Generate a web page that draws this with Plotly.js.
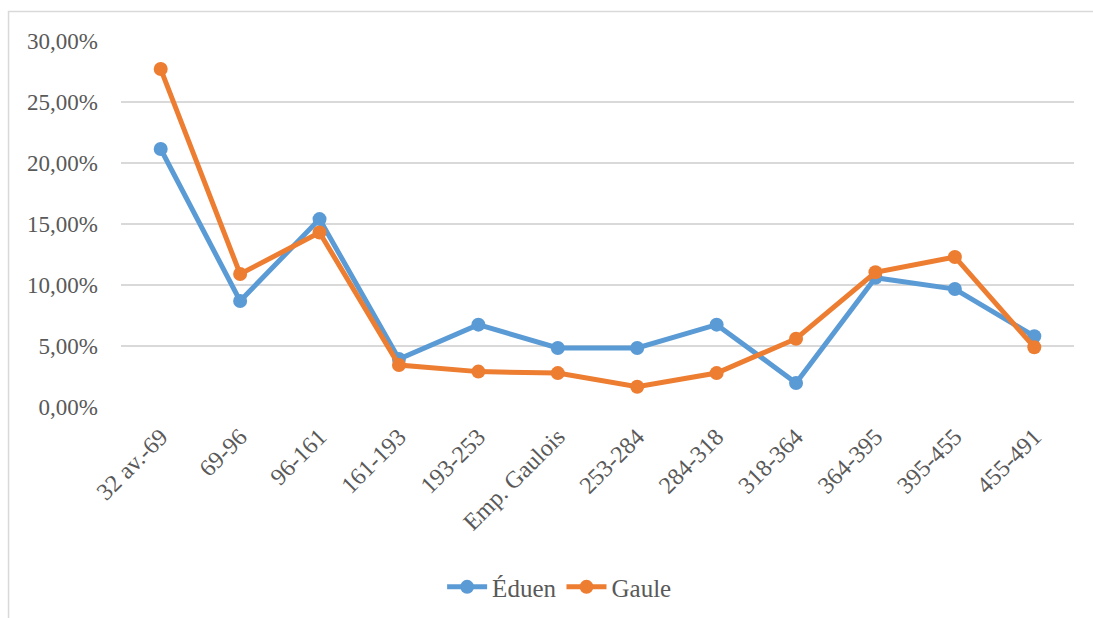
<!DOCTYPE html>
<html>
<head>
<meta charset="utf-8">
<script src="https://cdn.plot.ly/plotly-3.0.1.min.js"></script>
<style>
html,body{margin:0;padding:0;background:#fff;}
#chart{width:1093px;height:618px;}
</style>
</head>
<body>
<div id="chart"></div>
<script>
const categories = ["32 av.-69","69-96","96-161","161-193","193-253","Emp. Gaulois","253-284","284-318","318-364","364-395","395-455","455-491"];
const eduen = [0.2115,0.0869,0.1540,0.0393,0.0675,0.0484,0.0484,0.0675,0.0197,0.1060,0.0967,0.0580];
const gaule = [0.2770,0.1090,0.1430,0.0344,0.0290,0.0278,0.0166,0.0278,0.0560,0.1104,0.1230,0.0490];
const seriesNames = ["Éduen","Gaule"];
const yTicks = [0,0.05,0.10,0.15,0.20,0.25,0.30];

const fam = "Times New Roman, Liberation Serif, Tinos, DejaVu Serif, serif";
const yFont = {family:fam, size:23, color:"#595959"};
const xFont = {family:fam, size:24, color:"#595959"};
const legFont = {family:fam, size:25, color:"#595959"};

const traces = [
  {x:categories, y:eduen, name:seriesNames[0], type:"scatter", mode:"lines+markers",
   line:{color:"#5B9BD5", width:5}, marker:{color:"#5B9BD5", size:14}},
  {x:categories, y:gaule, name:seriesNames[1], type:"scatter", mode:"lines+markers",
   line:{color:"#ED7D31", width:5}, marker:{color:"#ED7D31", size:14}}
];

const layout = {
  width:1093, height:618,
  paper_bgcolor:"#fff", plot_bgcolor:"#fff",
  separators:", ",
  font:yFont,
  margin:{l:121, r:19, t:41, b:211, autoexpand:false},
  showlegend:true,
  legend:{orientation:"h", xref:"container", yref:"container", x:0.512, xanchor:"center", y:0.05, yanchor:"middle",
          font:legFont, itemwidth:40, traceorder:"normal"},
  xaxis:{type:"category", range:[-0.5, categories.length-0.5], tickangle:-45, showgrid:false, zeroline:false, showline:false,
         ticks:"", tickfont:xFont, ticklabelstandoff:10, automargin:false, fixedrange:true},
  yaxis:{range:[0,0.30], tickvals:yTicks, tickformat:".2%", showgrid:true, gridcolor:"#D9D9D9",
         gridwidth:1.5, zeroline:false, showline:false, ticks:"", tickfont:yFont,
         ticklabelstandoff:22, automargin:false, fixedrange:true},
  shapes:[{type:"rect", xref:"paper", yref:"paper", x0:-0.118, x1:1.2, y0:-0.7, y1:1.0806,
           line:{color:"#D9D9D9", width:1.5}, fillcolor:"rgba(0,0,0,0)", layer:"below"}]
};

Plotly.newPlot("chart", traces, layout, {displayModeBar:false, staticPlot:true});
</script>
</body>
</html>
